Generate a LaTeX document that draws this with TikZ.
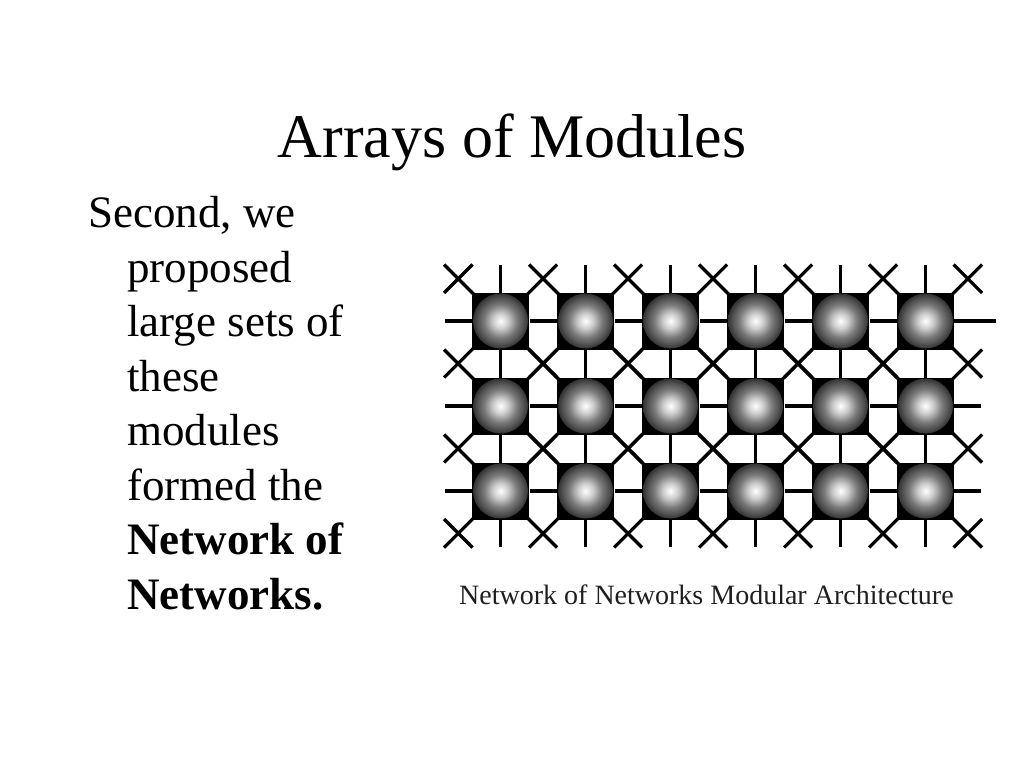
\documentclass[tikz,border=0pt]{standalone}
\usepackage{fontspec}
\setmainfont{Liberation Serif}
\usetikzlibrary{calc}
\pgfdeclareradialshading{ballshade}{\pgfpoint{0bp}{0bp}}{%
  color(0bp)=(white); color(7bp)=(white!80!black); color(15bp)=(black!52);
  color(21bp)=(black!68); color(25bp)=(black!80); color(50bp)=(black!80)}
\begin{document}
\begin{tikzpicture}[x=1pt,y=-1pt,
  modbox/.style={fill=black,draw=none,minimum size=57pt,inner sep=0pt,outer sep=0pt},
  ball/.style={circle,shading=ballshade,minimum size=55pt,inner sep=0pt,draw=none},
  wire/.style={line width=3.2pt,black},
  bodytext/.style={anchor=base west,inner sep=0pt,font=\fontsize{45}{54}\selectfont}]
\useasboundingbox (0,0) rectangle (1024,768);
\node[anchor=base,inner sep=0pt,font=\fontsize{62}{70}\selectfont] (title) at (512,157) {Arrays of Modules};
% body text
\node[bodytext] (l1) at (88,227) {Second, we};
\node[bodytext] (l2) at (127,282) {proposed};
\node[bodytext] (l3) at (127,336) {large sets of};
\node[bodytext] (l4) at (127,391) {these};
\node[bodytext] (l5) at (127,445) {modules};
\node[bodytext] (l6) at (127,500) {formed the};
\node[bodytext] (l7) at (127,554) {\textbf{Network of}};
\node[bodytext] (l8) at (127,609) {\textbf{Networks.}};
% module positions
\foreach \r in {1,2,3}{
  \foreach \c in {1,...,6}{
    \coordinate (p-\r-\c) at ({500.5+85*(\c-1)},{321+85*(\r-1)});
  }
}
% wires (behind the modules)
\foreach \r in {1,2,3}{
  \foreach \c in {1,...,6}{
    \draw[wire] (p-\r-\c) -- ++(0,-56);
    \draw[wire] (p-\r-\c) -- ++(-56,0);
    \draw[wire] (p-\r-\c) -- ++(-56.5,-56.5);
    \draw[wire] (p-\r-\c) -- ++(56.5,-56.5);
    \draw[wire] (p-\r-\c) -- ++(-56.5,56.5);
    \draw[wire] (p-\r-\c) -- ++(56.5,56.5);
  }
  \draw[wire] (p-\r-6) -- ++(55,0);
}
\draw[wire] (p-1-6) -- ++(70,0);
\foreach \c in {1,...,6}{
  \draw[wire] (p-3-\c) -- ++(0,56);
}
% corner crosses: second stroke
\draw[wire] ($(p-1-1)+(-56.5,-28)$) -- ($(p-1-1)+(-28,-56.5)$);
\draw[wire] ($(p-1-6)+(56.5,-28)$) -- ($(p-1-6)+(28,-56.5)$);
\draw[wire] ($(p-3-1)+(-56.5,28)$) -- ($(p-3-1)+(-28,56.5)$);
\draw[wire] ($(p-3-6)+(56.5,28)$) -- ($(p-3-6)+(28,56.5)$);
% modules
\foreach \r in {1,2,3}{
  \foreach \c in {1,...,6}{
    \node[modbox] (m-\r-\c) at (p-\r-\c) {};
    \node[ball] (b-\r-\c) at (p-\r-\c) {};
  }
}
\node[anchor=base west,inner sep=0pt,text=black!88,font=\fontsize{28}{32}\selectfont] (cap) at (459,604) {Network of Networks Modular Architecture};
\end{tikzpicture}
\end{document}
